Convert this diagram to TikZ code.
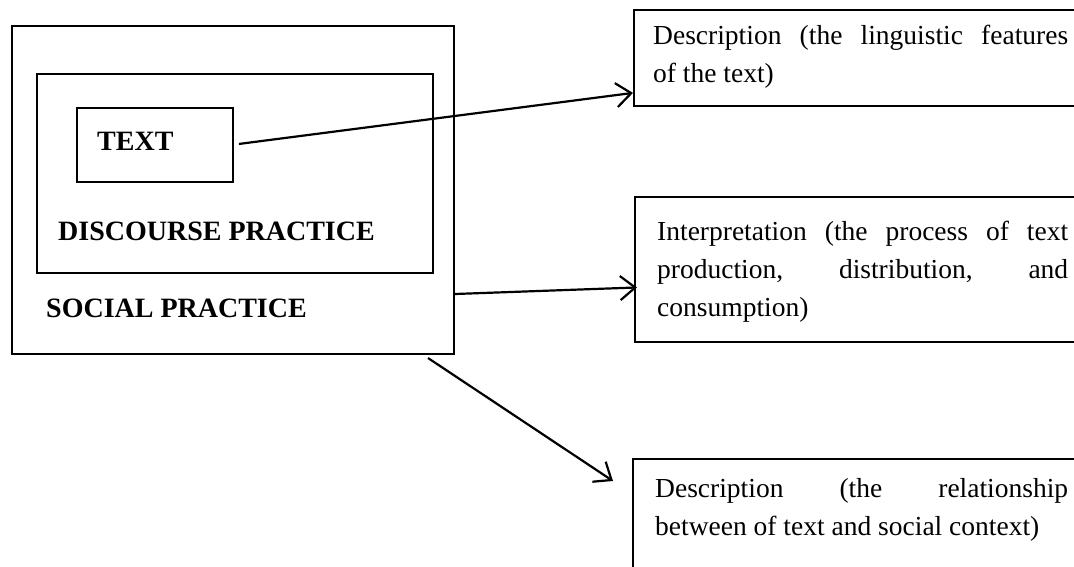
\documentclass[tikz,border=0pt]{standalone}
\usepackage{fontspec}
\setmainfont{Liberation Serif}
\usetikzlibrary{arrows.meta,positioning}

\begin{document}
\begin{tikzpicture}[x=1pt,y=-1pt,
            frame/.style={draw, line width=1.9pt, inner sep=0pt, anchor=north west},
            lbl/.style={font=\fontsize{28}{36}\selectfont\bfseries, anchor=base west, inner sep=0pt},
            note/.style={font=\fontsize{27.5}{38}\selectfont, align=justify, anchor=base west, inner sep=0pt},
            arr/.style={-{Straight Barb[length=15pt,width=24pt,line width=2.2pt]}, line width=2.2pt}
            ]
            \useasboundingbox (0,0) rectangle (1074,566);
            \clip (0,0) rectangle (1074,566);

            % nested practice boxes
            \node[frame, line width=2pt, minimum width=442pt, minimum height=328pt] (social) at (11,25) {};
            \node[frame, minimum width=396pt, minimum height=199pt] (discourse) at (36,73) {};
            \node[frame, minimum width=156pt, minimum height=74pt] (textbox) at (76,107) {};

            \node[lbl] (textlbl) at (97,150) {TEXT};
            \node[lbl] (discoursetxt) at (58,240) {DISCOURSE PRACTICE};
            \node[lbl] (socialtxt) at (46,317) {SOCIAL PRACTICE};

            % dimension boxes (open to the right)
            \node[frame, minimum width=600pt, minimum height=96pt] (descbox) at (633,9) {};
            \node[frame, minimum width=600pt, minimum height=145pt] (interpbox) at (634,196) {};
            \node[frame, minimum width=600pt, minimum height=200pt] (relbox) at (632,458) {};

            \node[note, text width=415pt] (desctxt) at (653,44) {Description (the linguistic features\linebreak of the text)};
            \node[note, text width=411pt] (interptxt) at (657,240) {Interpretation (the process of text\linebreak production, distribution, and\linebreak consumption)};
            \node[note, text width=413pt] (reltxt) at (655,497) {Description (the relationship\linebreak between of text and social context)};

            \draw[arr] ([xshift=5pt,yshift=1pt]textbox.east) -- ([yshift=14pt]descbox.south west);
            \draw[arr] ([yshift=61pt]social.south east) -- ([xshift=3pt,yshift=-18pt]interpbox.west);
            \draw[arr] ([xshift=-27pt,yshift=-3pt]social.south east) -- ([xshift=-19pt,yshift=-23pt]relbox.north west);

\end{tikzpicture}
\end{document}
